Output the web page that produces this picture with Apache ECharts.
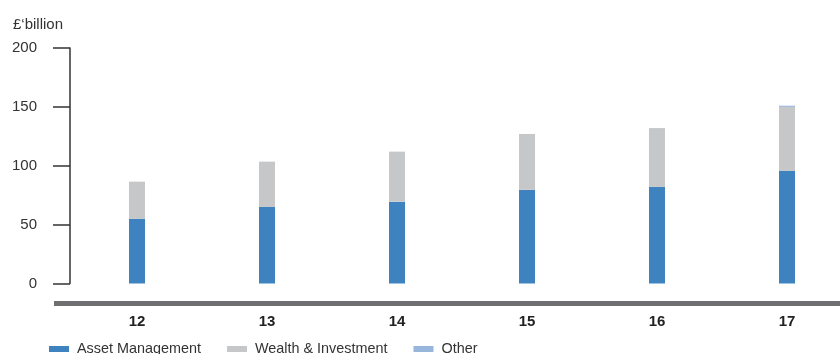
<!DOCTYPE html>
<html>
<head>
<meta charset="utf-8">
<script src="https://cdn.jsdelivr.net/npm/echarts@6/dist/echarts.min.js"></script>
<style>html,body{margin:0;padding:0;background:#fff}#c{width:840px;height:354px}</style>
</head>
<body>
<div id="c"></div>
<script>
const categories = ['12', '13', '14', '15', '16', '17'];
const assetManagement = [55, 65, 69.5, 79.5, 82, 95.5];
const wealthInvestment = [31.5, 38.5, 42.5, 47.5, 50, 54.5];
const other = [0, 0, 0, 0, 0, 1];
const yTicks = [0, 50, 100, 150, 200];

const font = '"Liberation Sans", Arial, sans-serif';
const chart = echarts.init(document.getElementById('c'), null, {renderer: 'canvas'});
chart.setOption({
  animation: false,
  title: {
    text: '£‘billion', left: 8, top: 12, padding: 5,
    textStyle: {fontFamily: font, fontSize: 15, fontWeight: 'normal', color: '#333'}
  },
  legend: {
    left: 44, top: 337, itemWidth: 20, itemHeight: 6, itemGap: 26,
    icon: 'rect',
    textStyle: {fontFamily: font, fontSize: 14.4, color: '#333', padding: [0, 0, 0, 3]},
    data: ['Asset Management', 'Wealth & Investment', 'Other']
  },
  grid: {left: 72, top: 48, width: 780, height: 235.5, containLabel: false, outerBoundsMode: 'none'},
  xAxis: {
    type: 'category', data: categories,
    axisLine: {show: false}, axisTick: {show: false},
    axisLabel: {margin: 31, fontFamily: font, fontSize: 15, fontWeight: 'bold', color: '#222'}
  },
  yAxis: {
    type: 'value', min: yTicks[0], max: yTicks[yTicks.length - 1], interval: 50, offset: 2,
    splitLine: {show: false},
    axisLine: {show: true, lineStyle: {color: '#333', width: 1.5}},
    axisTick: {show: true, length: 17, lineStyle: {color: '#333', width: 1.5}},
    axisLabel: {margin: 33, fontFamily: font, fontSize: 15, color: '#333'}
  },
  graphic: [{
    type: 'rect', shape: {x: 54, y: 301, width: 786, height: 5},
    style: {fill: '#6f6f71'}, silent: true
  }],
  series: [
    {name: 'Asset Management', type: 'bar', stack: 't', barWidth: 16, data: assetManagement, itemStyle: {color: '#3e83bf'}},
    {name: 'Wealth & Investment', type: 'bar', stack: 't', barWidth: 16, data: wealthInvestment, itemStyle: {color: '#c6c7c9'}},
    {name: 'Other', type: 'bar', stack: 't', barWidth: 16, data: other, itemStyle: {color: '#98b5dc'}}
  ]
});
</script>
</body>
</html>
